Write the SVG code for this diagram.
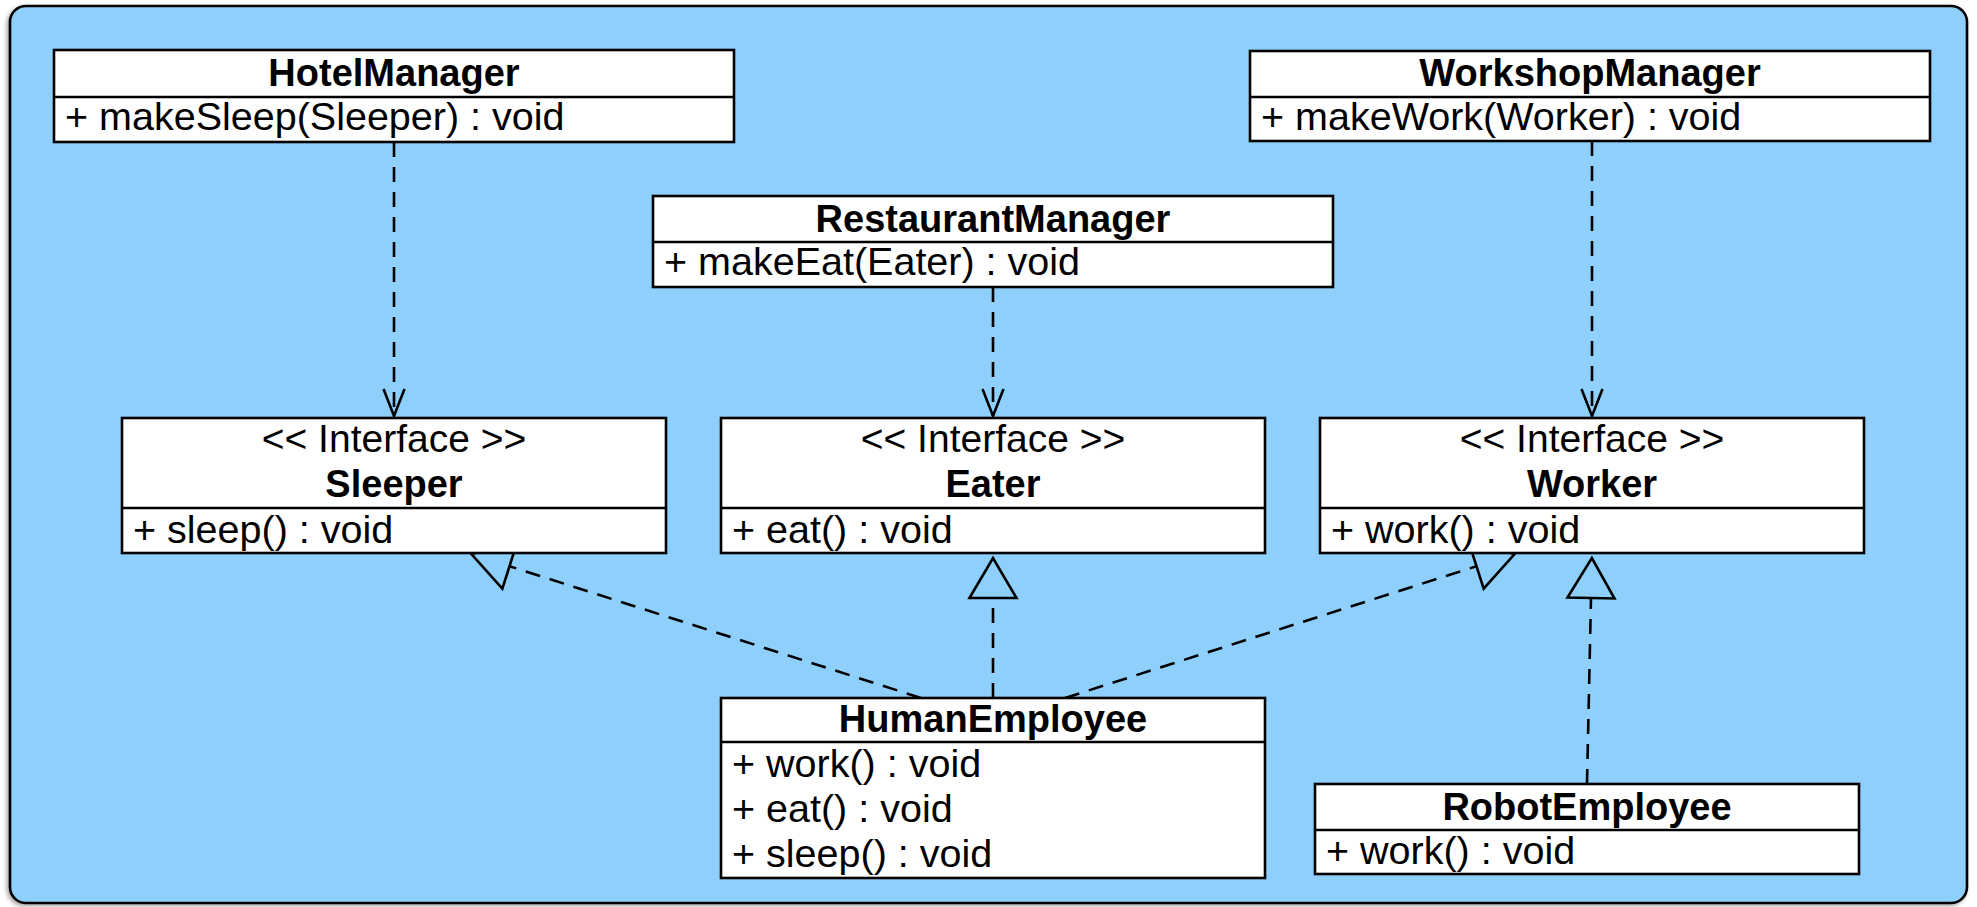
<svg xmlns="http://www.w3.org/2000/svg" width="1977" height="907" viewBox="0 0 1977 907">
<style>
.box{fill:#ffffff;stroke:#000000;stroke-width:2.6}
.div{stroke:#000000;stroke-width:2.6}
text{font-family:"Liberation Sans",Arial,Helvetica,sans-serif;font-size:39.5px;fill:#000000}
.t{font-weight:bold;text-anchor:middle;font-size:38px}
.st{text-anchor:middle;font-size:39px}
.dep{fill:none;stroke:#000000;stroke-width:2.6;stroke-dasharray:15 10}
</style>
<defs>
<filter id="sh" x="-5%" y="-5%" width="110%" height="110%">
<feDropShadow dx="-2" dy="2" stdDeviation="2" flood-color="#000000" flood-opacity="0.35"/>
</filter>
<marker id="open" viewBox="0 0 30 24" refX="28" refY="12" markerWidth="30" markerHeight="24" markerUnits="userSpaceOnUse" orient="auto" overflow="visible">
<path d="M1,1.5 L28,12 L1,22.5" fill="none" stroke="#000000" stroke-width="2.6" stroke-dasharray="none"/>
</marker>
<marker id="tri" viewBox="0 0 42 50" refX="1" refY="25" markerWidth="42" markerHeight="50" markerUnits="userSpaceOnUse" orient="auto" overflow="visible">
<path d="M1,1.5 L41,25 L1,48.5 Z" fill="none" stroke="#000000" stroke-width="2.6" stroke-dasharray="none" stroke-linejoin="miter"/>
</marker>
</defs>
<rect x="10" y="6" width="1957" height="897" rx="16" ry="16" fill="#8ecffc" stroke="#000000" stroke-width="2.6" filter="url(#sh)"/>

<g id="connectors">
<path class="dep" d="M394,142 L394,416" marker-end="url(#open)"/>
<path class="dep" d="M993,287 L993,416" marker-end="url(#open)"/>
<path class="dep" d="M1592,141 L1592,416" marker-end="url(#open)"/>
<path class="dep" d="M921,698 L509.5,566.2" marker-end="url(#tri)"/>
<path class="dep" d="M993,698 L993,598" marker-end="url(#tri)"/>
<path class="dep" d="M1065,698 L1476.5,566.2" marker-end="url(#tri)"/>
<path class="dep" d="M1587,784 L1591,598" marker-end="url(#tri)"/>
</g>

<g id="HotelManager">
<rect class="box" x="54" y="50" width="680" height="92"/>
<line class="div" x1="54" y1="97" x2="734" y2="97"/>
<text class="t" x="394" y="86">HotelManager</text>
<text x="65" y="130">+ makeSleep(Sleeper) : void</text>
</g>

<g id="RestaurantManager">
<rect class="box" x="653" y="196" width="680" height="91"/>
<line class="div" x1="653" y1="242" x2="1333" y2="242"/>
<text class="t" x="993" y="232">RestaurantManager</text>
<text x="664" y="275">+ makeEat(Eater) : void</text>
</g>

<g id="WorkshopManager">
<rect class="box" x="1250" y="51" width="680" height="90"/>
<line class="div" x1="1250" y1="97" x2="1930" y2="97"/>
<text class="t" x="1590" y="86">WorkshopManager</text>
<text x="1261" y="130">+ makeWork(Worker) : void</text>
</g>

<g id="Sleeper">
<rect class="box" x="122" y="418" width="544" height="135"/>
<line class="div" x1="122" y1="508" x2="666" y2="508"/>
<text class="st" x="394" y="452">&lt;&lt; Interface &gt;&gt;</text>
<text class="t" x="394" y="497">Sleeper</text>
<text x="133" y="543">+ sleep() : void</text>
</g>

<g id="Eater">
<rect class="box" x="721" y="418" width="544" height="135"/>
<line class="div" x1="721" y1="508" x2="1265" y2="508"/>
<text class="st" x="993" y="452">&lt;&lt; Interface &gt;&gt;</text>
<text class="t" x="993" y="497">Eater</text>
<text x="732" y="543">+ eat() : void</text>
</g>

<g id="Worker">
<rect class="box" x="1320" y="418" width="544" height="135"/>
<line class="div" x1="1320" y1="508" x2="1864" y2="508"/>
<text class="st" x="1592" y="452">&lt;&lt; Interface &gt;&gt;</text>
<text class="t" x="1592" y="497">Worker</text>
<text x="1331" y="543">+ work() : void</text>
</g>

<g id="HumanEmployee">
<rect class="box" x="721" y="698" width="544" height="180"/>
<line class="div" x1="721" y1="742" x2="1265" y2="742"/>
<text class="t" x="993" y="732">HumanEmployee</text>
<text x="732" y="777">+ work() : void</text>
<text x="732" y="822">+ eat() : void</text>
<text x="732" y="867">+ sleep() : void</text>
</g>

<g id="RobotEmployee">
<rect class="box" x="1315" y="784" width="544" height="90"/>
<line class="div" x1="1315" y1="830" x2="1859" y2="830"/>
<text class="t" x="1587" y="820">RobotEmployee</text>
<text x="1326" y="864">+ work() : void</text>
</g>
</svg>
